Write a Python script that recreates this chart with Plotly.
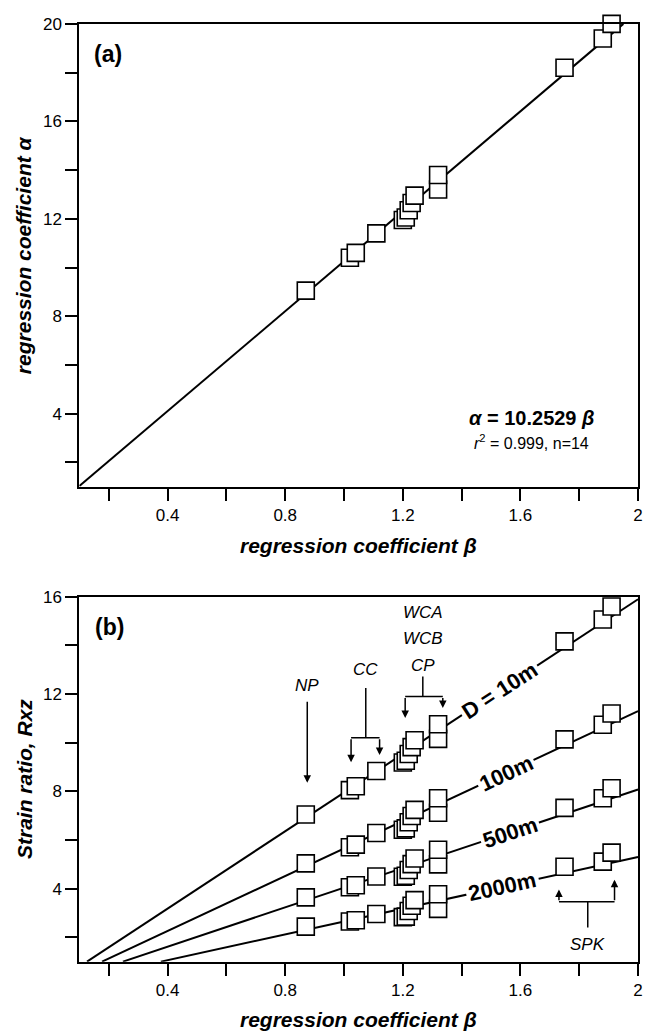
import plotly.graph_objects as go

# ---------------- data ----------------
beta = [0.87, 1.02, 1.04, 1.11, 1.20, 1.21, 1.22, 1.23, 1.24, 1.32, 1.32, 1.75, 1.88, 1.91]
alpha = [9.05, 10.40, 10.60, 11.40, 11.95, 12.05, 12.35, 12.65, 12.95, 13.20, 13.80, 18.20, 19.40, 20.00]

rxz_10m = [7.05, 8.05, 8.21, 8.84, 9.19, 9.26, 9.54, 9.82, 10.10, 10.16, 10.76, 14.17, 15.07, 15.60]
rxz_100m = [5.04, 5.70, 5.81, 6.29, 6.42, 6.48, 6.73, 6.99, 7.24, 7.12, 7.72, 10.14, 10.74, 11.20]
rxz_500m = [3.64, 4.06, 4.14, 4.50, 4.49, 4.53, 4.77, 5.01, 5.24, 5.00, 5.60, 7.32, 7.72, 8.13]
rxz_2000m = [2.44, 2.65, 2.70, 2.96, 2.83, 2.85, 3.08, 3.30, 3.53, 3.17, 3.77, 4.90, 5.11, 5.48]

fit_a_beta = [0.10, 1.95]
fit_a_alpha = [1.03, 20.00]

depth_names = ["D = 10m", "100m", "500m", "2000m"]
depth_line_beta = [[0.126, 2.0], [0.177, 2.0], [0.248, 2.0], [0.377, 2.0]]
depth_line_rxz = [[1.0, 15.90], [1.0, 11.30], [1.0, 8.08], [1.0, 5.30]]
depth_points = [rxz_10m, rxz_100m, rxz_500m, rxz_2000m]

x_tickvals = [0.2, 0.4, 0.6, 0.8, 1.0, 1.2, 1.4, 1.6, 1.8, 2.0]
x_ticktext = ["", "0.4", "", "0.8", "", "1.2", "", "1.6", "", "2"]
ya_tickvals = [2, 4, 6, 8, 10, 12, 14, 16, 18, 20]
ya_ticktext = ["", "4", "", "8", "", "12", "", "16", "", "20"]
yb_tickvals = [2, 4, 6, 8, 10, 12, 14, 16]
yb_ticktext = ["", "4", "", "8", "", "12", "", "16"]

# ---------------- layout helpers ----------------
W, H = 649, 1033
FONT = "Liberation Sans, Arial, sans-serif"


def px(x):
    return x / W


def py(y):
    return 1 - y / H


LEFT, RIGHT = 80, 643
A_TOP, A_BOT = 15, 482
B_TOP, B_BOT = 593, 961

fig = go.Figure()

marker = dict(symbol="square", size=17, color="white", line=dict(color="black", width=1.6))

# panel a
fig.add_trace(go.Scatter(x=fit_a_beta, y=fit_a_alpha, mode="lines",
                         line=dict(color="black", width=2), xaxis="x", yaxis="y",
                         showlegend=False, hoverinfo="skip"))
fig.add_trace(go.Scatter(x=beta, y=alpha, mode="markers", marker=marker, cliponaxis=False,
                         xaxis="x", yaxis="y", showlegend=False))

# panel b
for lb, lr in zip(depth_line_beta, depth_line_rxz):
    fig.add_trace(go.Scatter(x=lb, y=lr, mode="lines", line=dict(color="black", width=2),
                             xaxis="x2", yaxis="y2", showlegend=False, hoverinfo="skip"))
for name, pts in zip(depth_names, depth_points):
    fig.add_trace(go.Scatter(x=beta, y=pts, mode="markers", marker=marker, name=name,
                             cliponaxis=False, xaxis="x2", yaxis="y2", showlegend=False))

axis_common = dict(showline=True, linecolor="black", linewidth=2, mirror=True,
                   ticks="outside", ticklen=12, tickwidth=2, tickcolor="black",
                   showgrid=False, zeroline=False,
                   tickfont=dict(family=FONT, size=17, color="black"))

fig.update_layout(
    width=W, height=H,
    margin=dict(l=0, r=0, t=0, b=0),
    paper_bgcolor="white", plot_bgcolor="white",
    xaxis=dict(domain=[px(LEFT), px(RIGHT)], range=[0.1, 2.0], anchor="y",
               tickvals=x_tickvals, ticktext=x_ticktext, **axis_common),
    yaxis=dict(domain=[py(A_BOT), py(A_TOP)], range=[1, 20], anchor="x",
               tickvals=ya_tickvals, ticktext=ya_ticktext, **axis_common),
    xaxis2=dict(domain=[px(LEFT), px(RIGHT)], range=[0.1, 2.0], anchor="y2",
                tickvals=x_tickvals, ticktext=x_ticktext, **axis_common),
    yaxis2=dict(domain=[py(B_BOT), py(B_TOP)], range=[1, 16], anchor="x2",
                tickvals=yb_tickvals, ticktext=yb_ticktext, **axis_common),
)

ann = []


def paper_text(text, x, y, size, angle=0):
    ann.append(dict(text=text, x=px(x), y=py(y), xref="paper", yref="paper",
                    showarrow=False, xanchor="center", yanchor="middle", textangle=angle,
                    font=dict(family=FONT, size=size, color="black")))


# panel labels and titles
paper_text("<b>(a)</b>", 109, 45, 23)
paper_text("<b>(b)</b>", 110, 623, 23)
paper_text("<b><i>α</i> = 10.2529 <i>β</i></b>", 536, 413, 20)
paper_text("<i>r</i><sup>2</sup> = 0.999, n=14", 536, 437, 16)
paper_text("<b><i>regression coefficient β</i></b>", 361.5, 541, 21)
paper_text("<b><i>regression coefficient β</i></b>", 361.5, 1019, 21)
paper_text("<b><i>regression coefficient α</i></b>", 24, (A_TOP + A_BOT) / 2, 21, -90)
paper_text("<b><i>Strain ratio, Rxz</i></b>", 24, (B_TOP + B_BOT) / 2, 21, -90)

# depth labels on the lines
label_pos = [(1.53, 12.16, -33), (1.55, 8.75, -25), (1.565, 6.32, -18.5), (1.54, 4.08, -12.4)]
for name, (lx, ly, la) in zip(depth_names, label_pos):
    ann.append(dict(text="<b>" + name + "</b>", x=lx, y=ly, xref="x2", yref="y2",
                    showarrow=False, textangle=la, bgcolor="white", borderpad=2,
                    font=dict(family=FONT, size=22, color="black")))


def data_text(text, x, y, size=17):
    ann.append(dict(text="<i>" + text + "</i>", x=x, y=y, xref="x2", yref="y2",
                    showarrow=False, font=dict(family=FONT, size=size, color="black")))


def arrow(x0, y0, x1, y1):
    ann.append(dict(text="", x=x1, y=y1, ax=x0, ay=y0, xref="x2", yref="y2",
                    axref="x2", ayref="y2", showarrow=True, arrowhead=2, arrowsize=1,
                    arrowwidth=1.5, arrowcolor="black", standoff=0, startstandoff=0))


shapes = []


def seg(x0, y0, x1, y1):
    shapes.append(dict(type="line", x0=x0, y0=y0, x1=x1, y1=y1, xref="x2", yref="y2",
                       line=dict(color="black", width=1.5)))


# NP
data_text("NP", 0.875, 12.35)
arrow(0.875, 11.75, 0.875, 8.35)
# CC
data_text("CC", 1.074, 13.0)
seg(1.074, 12.25, 1.074, 10.21)
seg(1.024, 10.21, 1.121, 10.21)
arrow(1.024, 10.21, 1.024, 9.2)
arrow(1.121, 10.21, 1.121, 9.5)
# WCA / WCB / CP
data_text("WCA", 1.268, 15.37)
data_text("WCB", 1.268, 14.28)
data_text("CP", 1.268, 13.19)
seg(1.268, 12.72, 1.268, 11.90)
seg(1.208, 11.90, 1.336, 11.90)
arrow(1.208, 11.90, 1.208, 11.02)
arrow(1.336, 11.90, 1.336, 11.43)
# SPK
data_text("SPK", 1.829, 1.72)
seg(1.829, 2.40, 1.829, 3.46)
seg(1.731, 3.46, 1.92, 3.46)
arrow(1.731, 3.46, 1.731, 3.97)
arrow(1.92, 3.46, 1.92, 4.37)

fig.update_layout(annotations=ann, shapes=shapes)

fig.write_html("out.html", config={"displayModeBar": False},
               post_script="document.body.style.margin='0';")
